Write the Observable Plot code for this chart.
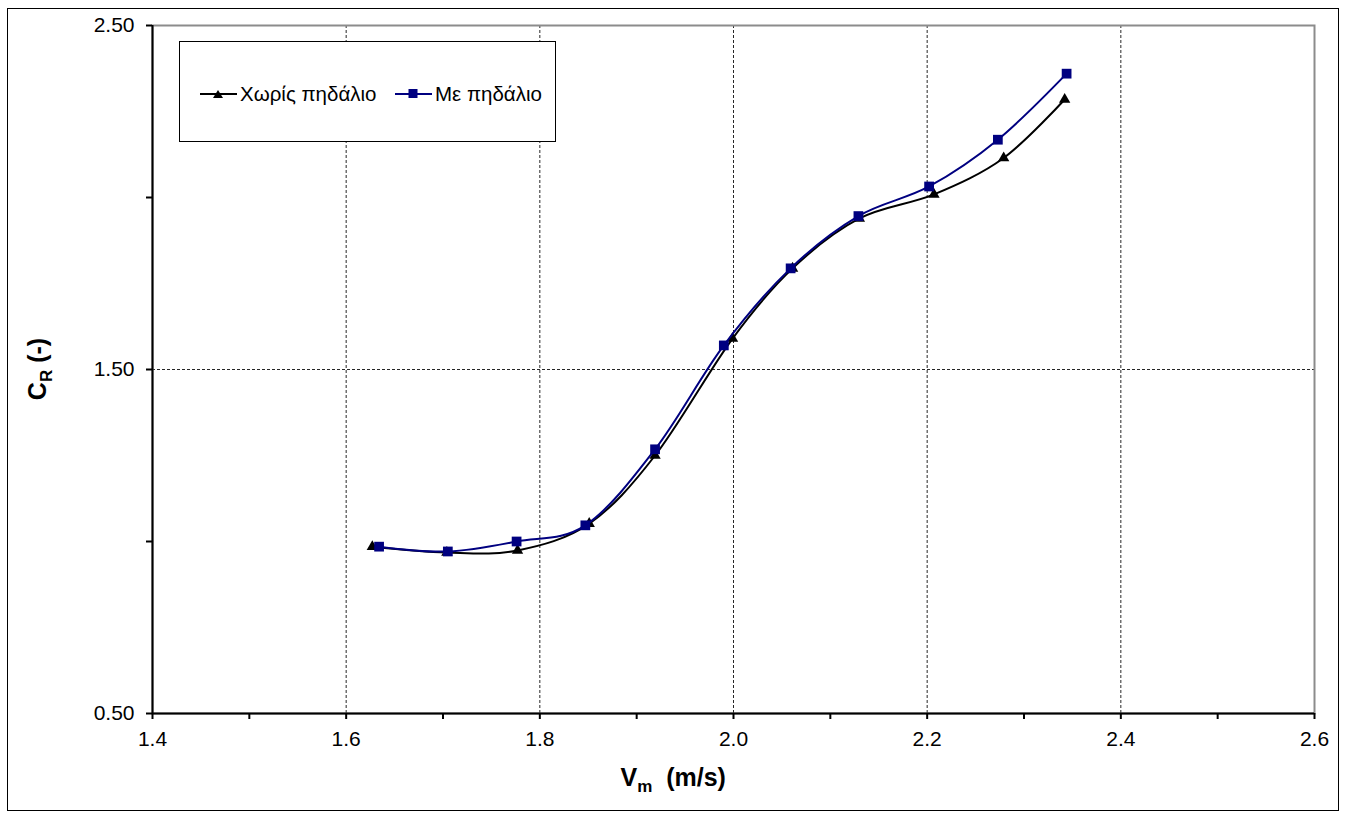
<!DOCTYPE html>
<html>
<head>
<meta charset="utf-8">
<script src="https://cdn.jsdelivr.net/npm/d3@7"></script>
<script src="https://cdn.jsdelivr.net/npm/@observablehq/plot@0.6"></script>
<style>
  html, body { margin: 0; padding: 0; background: #fff; }
  #wrap { position: relative; width: 1347px; height: 820px; font-family: "Liberation Sans", Arial, sans-serif; }
  #frame { position: absolute; left: 7px; top: 8px; width: 1332px; height: 803px; border: 1.5px solid #000; box-sizing: border-box; pointer-events: none; }
  #legend { position: absolute; left: 179px; top: 41px; width: 377px; height: 101px; border: 1px solid #000; background: #fff; box-sizing: border-box; }
  .lg { position: absolute; top: 40px; font-size: 20.5px; display: flex; align-items: center; }
  .title { position: absolute; font-weight: bold; font-size: 25px; white-space: nowrap; }
  .title sub { font-size: 17px; vertical-align: -6px; }
  #chart svg text { font-size: 21px; }
</style>
</head>
<body>
<div id="wrap">
  <div id="chart"></div>
  <div id="legend"></div>
  <div class="title" id="xt">V<sub>m</sub>&nbsp; (m/s)</div>
  <div class="title" id="yt">C<sub>R</sub> (-)</div>
  <div id="frame"></div>
</div>
<script>
// Series data
const seriesNames = ["Χωρίς πηδάλιο", "Με πηδάλιο"];
const vNo   = [1.627, 1.704, 1.777, 1.851, 1.919, 1.999, 2.061, 2.130, 2.207, 2.279, 2.342];
const crNo  = [0.985, 0.968, 0.974, 1.052, 1.250, 1.590, 1.794, 1.939, 2.009, 2.115, 2.285];
const vWith = [1.634, 1.705, 1.776, 1.847, 1.919, 1.990, 2.059, 2.129, 2.202, 2.273, 2.344];
const crWith= [0.985, 0.971, 1.000, 1.047, 1.268, 1.570, 1.794, 1.946, 2.032, 2.168, 2.360];
// Axis ticks
const xMajor = [1.4, 1.6, 1.8, 2.0, 2.2, 2.4, 2.6];
const xMinor = [1.5, 1.7, 1.9, 2.1, 2.3, 2.5];
const xGrid = [1.6, 1.8, 2.0, 2.2, 2.4];
const yMajor = [0.5, 1.5, 2.5];
const yMinor = [1.0, 2.0];
const yGrid = [1.5];

const dNo = vNo.map((v, i) => ({v, cr: crNo[i]}));
const dWith = vWith.map((v, i) => ({v, cr: crWith[i]}));

const navy = "#000080";
const chart = Plot.plot({
  width: 1347,
  height: 820,
  marginLeft: 152,
  marginRight: 33,
  marginTop: 25,
  marginBottom: 107,
  style: {fontFamily: "'Liberation Sans', Arial, sans-serif", fontSize: "21px", color: "#000", background: "transparent"},
  x: {domain: [1.4, 2.6]},
  y: {domain: [0.5, 2.5]},
  marks: [
    Plot.gridX(xGrid, {stroke: "#000", strokeOpacity: 0.85, strokeDasharray: "3,2", strokeWidth: 1}),
    Plot.gridY(yGrid, {stroke: "#000", strokeOpacity: 0.85, strokeDasharray: "3,2", strokeWidth: 1}),
    Plot.frame({stroke: "#8c8c8c", strokeWidth: 2}),
    Plot.axisX(xMajor, {tickSize: 6, tickPadding: 12, tickFormat: d => d.toFixed(1), label: null, strokeWidth: 2, fontSize: 21}),
    Plot.axisX(xMinor, {tickSize: 6, tickFormat: () => "", label: null, strokeWidth: 2}),
    Plot.axisY(yMajor, {tickSize: 6, tickPadding: 12, tickFormat: d => d.toFixed(2), label: null, strokeWidth: 2, fontSize: 21}),
    Plot.axisY(yMinor, {tickSize: 6, tickFormat: () => "", label: null, strokeWidth: 2}),
    Plot.ruleX([1.4], {stroke: "#000", strokeWidth: 2}),
    Plot.ruleY([0.5], {stroke: "#000", strokeWidth: 2}),
    Plot.line(dNo, {x: "v", y: "cr", stroke: "#000", strokeWidth: 2, curve: "cardinal", tension: 0}),
    Plot.dot(dNo, {x: "v", y: "cr", symbol: "triangle", r: 4.2, fill: "#000", stroke: "none"}),
    Plot.line(dWith, {x: "v", y: "cr", stroke: navy, strokeWidth: 2, curve: "cardinal", tension: 0}),
    Plot.dot(dWith, {x: "v", y: "cr", symbol: "square", r: 5.5, fill: navy, stroke: "none"})
  ]
});
document.getElementById("chart").appendChild(chart);

// Legend
const legend = document.getElementById("legend");
const colors = ["#000", navy];
const shapes = ["tri", "sq"];
const lefts = [20, 215];
seriesNames.forEach((name, i) => {
  const item = document.createElement("div");
  item.className = "lg";
  item.style.left = lefts[i] + "px";
  const marker = shapes[i] === "tri"
    ? `<path d="M18,6 L23,14 L13,14 Z" fill="${colors[i]}"/>`
    : `<rect x="13.5" y="5" width="9" height="9" fill="${colors[i]}"/>`;
  item.innerHTML = `<svg width="37" height="20" style="margin-right:3px"><line x1="0" y1="10" x2="37" y2="10" stroke="${colors[i]}" stroke-width="2"/>${marker}</svg><span>${name}</span>`;
  legend.appendChild(item);
});

// Axis titles placement
const xt = document.getElementById("xt");
xt.style.left = (673 - xt.offsetWidth / 2) + "px";
xt.style.top = (780 - xt.offsetHeight / 2) + "px";
const yt = document.getElementById("yt");
yt.style.left = (40 - yt.offsetWidth / 2) + "px";
yt.style.top = (369 - yt.offsetHeight / 2) + "px";
yt.style.transform = "rotate(-90deg)";
</script>
</body>
</html>
